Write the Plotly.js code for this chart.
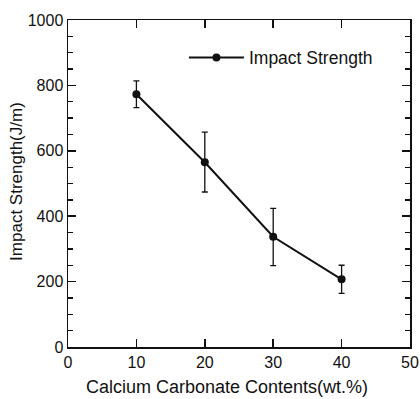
<!DOCTYPE html>
<html>
<head>
<meta charset="utf-8">
<script src="https://cdn.plot.ly/plotly-3.0.1.min.js"></script>
<style>html,body{margin:0;padding:0;background:#fff;}#chart{width:420px;height:399px;}</style>
</head>
<body>
<div id="chart"></div>
<script>
const contents = [10, 20, 30, 40];
const impactStrength = [773, 565, 337, 207];
const errorPlus = [41, 92, 87, 43];
const errorMinus = [41, 91, 88, 43];
const seriesName = 'Impact Strength';
const xTitle = 'Calcium Carbonate Contents(wt.%)';
const yTitle = 'Impact Strength(J/m)';

const ink = '#111';
const fam = 'Liberation Sans, Arial, sans-serif';
const trace = {
  x: contents,
  y: impactStrength,
  name: seriesName,
  type: 'scatter',
  mode: 'lines+markers',
  line: {color: ink, width: 2},
  marker: {color: ink, size: 8},
  error_y: {type: 'data', symmetric: false, array: errorPlus, arrayminus: errorMinus,
            color: ink, thickness: 1.3, width: 3}
};

const layout = {
  width: 420, height: 399,
  margin: {l: 68, r: 10, t: 20, b: 52},
  paper_bgcolor: '#fff', plot_bgcolor: '#fff',
  font: {family: fam, size: 16, color: ink},
  showlegend: true,
  legend: {x: 0.339, y: 0.885, xanchor: 'left', yanchor: 'middle', bgcolor: 'rgba(0,0,0,0)',
           font: {family: fam, size: 17.5, color: ink}, itemwidth: 55},
  annotations: [{
    text: yTitle, xref: 'paper', yref: 'paper', x: -0.149, y: 0.505,
    xanchor: 'center', yanchor: 'middle', textangle: -90, showarrow: false,
    font: {family: fam, size: 17, color: ink}
  }, {
    text: xTitle, xref: 'paper', yref: 'paper', x: 0.466, y: -0.121,
    xanchor: 'center', yanchor: 'middle', showarrow: false,
    font: {family: fam, size: 18, color: ink}
  }],
  xaxis: {
    range: [0, 50], dtick: 10, tick0: 0,
    showgrid: false, zeroline: false,
    showline: true, linecolor: ink, linewidth: 1.5, mirror: 'allticks',
    ticks: 'inside', ticklen: 8, tickwidth: 1.6, tickcolor: ink
  },
  yaxis: {
    range: [0, 1000], dtick: 200, tick0: 0,
    showgrid: false, zeroline: false,
    showline: true, linecolor: ink, linewidth: 1.5, mirror: 'allticks',
    ticks: 'inside', ticklen: 8, tickwidth: 1.6, tickcolor: ink,
    minor: {dtick: 50, ticks: 'inside', ticklen: 5, tickwidth: 1.3, tickcolor: ink, showgrid: false}
  }
};

Plotly.newPlot('chart', [trace], layout, {displayModeBar: false, staticPlot: true});
</script>
</body>
</html>
